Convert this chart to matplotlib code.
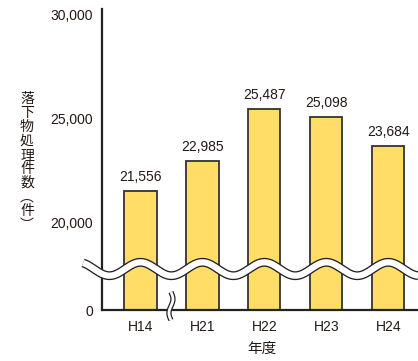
import numpy as np
import matplotlib
matplotlib.use("Agg")
import matplotlib.pyplot as plt

plt.rcParams['font.family'] = ['Liberation Sans', 'Noto Sans CJK JP', 'DejaVu Sans']

# data
years = ['H14', 'H21', 'H22', 'H23', 'H24']
counts = [21556, 22985, 25487, 25098, 23684]
ytick_values = [20000, 25000, 30000]
ytick_labels = ['20,000', '25,000', '30,000']
ylabel_chars = ['落', '下', '物', '処', '理', '件', '数', '︵', '件', '︶']
xlabel = '年度'

ink = '#231815'
bar_color = '#FFDD66'

W, H = 418, 361
fig = plt.figure(figsize=(W / 100, H / 100), dpi=100)
ax = fig.add_axes([102 / W, 1 - 310 / H, 1 - 102 / W, (310 - 9) / H])

# broken axis: everything below the break is squeezed, bottom of axes shows "0"
base = 15817
ax.set_ylim(base, 30288)
x = np.arange(len(years))
ax.set_xlim(-0.621, 4.48)

ax.bar(x, np.array(counts) - base, bottom=base, width=0.52,
       color=bar_color, edgecolor='#333333', linewidth=1.3, zorder=2)
for xi, v in zip(x, counts):
    ax.annotate(f'{v:,}', (xi, v), xytext=(0, 5), textcoords='offset points',
                ha='center', va='bottom', fontsize=10, color=ink)

ax.set_yticks([base] + ytick_values)
ax.set_yticklabels(['0'] + ytick_labels)
ax.set_xticks(x)
ax.set_xticklabels(years)
ax.tick_params(axis='y', length=0, pad=6.5, labelsize=10, labelcolor=ink)
ax.tick_params(axis='x', length=0, pad=7, labelsize=10, labelcolor=ink)

for s in ['top', 'right']:
    ax.spines[s].set_visible(False)
for s in ['left', 'bottom']:
    ax.spines[s].set_color('#222222')
    ax.spines[s].set_linewidth(1.6)

# wavy break band across the chart
px = 62.0  # pixels per x unit
py = 0.0208  # pixels per y unit
wx = np.linspace((83 - 140.5) / px, 4.48, 600)
wy = (base + (310 - 269) / py) + (6.7 / py) * np.cos(2 * np.pi * wx)
ax.plot(wx, wy, color='#222222', lw=6.4, solid_capstyle='butt', zorder=5, clip_on=False)
ax.plot(wx, wy, color='white', lw=4.5, solid_capstyle='butt', zorder=6, clip_on=False)

# small break mark on the x axis between H14 and H21
t = np.linspace(0, 1, 60)
bx = (171 - 140.5) / px + (2.0 / px) * np.sin(2 * np.pi * t)
by = base + (0 - (t - 0.64) * 28) / py
ax.plot(bx, by, color='#222222', lw=3.8, solid_capstyle='butt', zorder=5, clip_on=False)
ax.plot(bx, by, color='white', lw=2.0, solid_capstyle='butt', zorder=6, clip_on=False)

# vertical y label, one glyph per line
for i, ch in enumerate(ylabel_chars):
    fig.text(27 / W, 1 - (99 + 14 * i) / H, ch, ha='center', va='center', fontsize=10,
             color=ink, family=['Noto Sans CJK JP', 'DejaVu Sans'])

fig.text(262 / W, 1 - 349 / H, xlabel, ha='center', va='center', fontsize=10.5,
         color=ink, family=['Noto Sans CJK JP', 'DejaVu Sans'])

fig.savefig('out.png', dpi=100)
